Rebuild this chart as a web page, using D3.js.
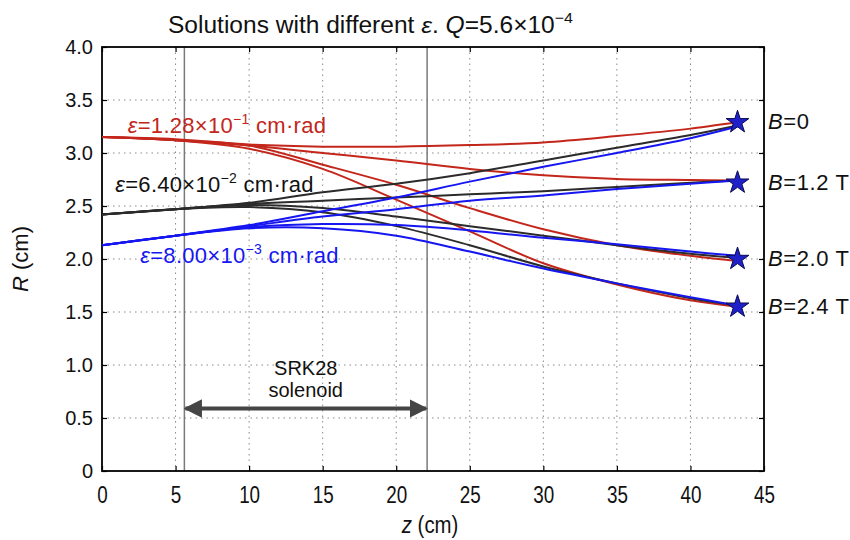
<!DOCTYPE html>
<html>
<head>
<meta charset="utf-8">
<script src="https://cdn.jsdelivr.net/npm/d3@7"></script>
<style>
  body { margin: 0; background: #fff; }
  svg text { font-family: "Liberation Sans", Arial, sans-serif; }
</style>
</head>
<body>
<div id="chart"></div>
<script>
const zValues = [0, 5, 10, 15, 20, 25, 30, 35, 40, 43.2];
const bLabels = ["0", "1.2 T", "2.0 T", "2.4 T"];

// eps = 1.28e-1 cm rad (red)
const redB0  = [3.15, 3.13, 3.08, 3.06, 3.06, 3.075, 3.10, 3.16, 3.23, 3.29];
const redB12 = [3.15, 3.12, 3.07, 3.00, 2.93, 2.85, 2.79, 2.755, 2.745, 2.74];
const redB20 = [3.15, 3.12, 3.07, 2.89, 2.70, 2.48, 2.28, 2.13, 2.03, 1.98];
const redB24 = [3.15, 3.12, 3.04, 2.85, 2.56, 2.26, 1.96, 1.76, 1.61, 1.55];
// eps = 6.40e-2 cm rad (black)
const blackB0  = [2.42, 2.47, 2.53, 2.63, 2.71, 2.81, 2.93, 3.05, 3.17, 3.26];
const blackB12 = [2.42, 2.47, 2.52, 2.55, 2.58, 2.61, 2.64, 2.68, 2.72, 2.74];
const blackB20 = [2.42, 2.47, 2.51, 2.48, 2.40, 2.31, 2.22, 2.13, 2.05, 2.01];
const blackB24 = [2.42, 2.47, 2.49, 2.44, 2.31, 2.13, 1.93, 1.77, 1.63, 1.56];
// eps = 8.00e-3 cm rad (blue)
const blueB0  = [2.13, 2.22, 2.32, 2.45, 2.58, 2.73, 2.87, 3.00, 3.14, 3.25];
const blueB12 = [2.13, 2.22, 2.31, 2.40, 2.47, 2.55, 2.60, 2.66, 2.71, 2.74];
const blueB20 = [2.13, 2.22, 2.30, 2.33, 2.32, 2.27, 2.20, 2.14, 2.07, 2.03];
const blueB24 = [2.13, 2.22, 2.29, 2.29, 2.22, 2.07, 1.91, 1.77, 1.64, 1.56];

// end points (stars)
const starZ = 43.2;
const starR = [3.29, 2.72, 2.0, 1.55];

// solenoid edges
const solenoidZ = [5.6, 22.1];
const arrowR = 0.59;

const xTicks = [0, 5, 10, 15, 20, 25, 30, 35, 40, 45];
const yTicks = [0, 0.5, 1.0, 1.5, 2.0, 2.5, 3.0, 3.5, 4.0];

const series = [
  { color: "#c3261b", values: [redB0, redB12, redB20, redB24] },
  { color: "#2b2b2b", values: [blackB0, blackB12, blackB20, blackB24] },
  { color: "#1616f0", values: [blueB0, blueB12, blueB20, blueB24] }
];

const W = 850, H = 540;
const margin = { top: 47, right: 86, bottom: 69, left: 102 };
const width = W - margin.left - margin.right;
const height = H - margin.top - margin.bottom;

const svg = d3.select("#chart").append("svg")
  .attr("width", W).attr("height", H);

const g = svg.append("g")
  .attr("transform", `translate(${margin.left},${margin.top})`);

const x = d3.scaleLinear().domain([0, 45]).range([0, width]);
const y = d3.scaleLinear().domain([0, 4]).range([height, 0]);

// dotted grid
g.append("g").selectAll("line").data(xTicks.slice(1, -1)).enter().append("line")
  .attr("x1", d => x(d)).attr("x2", d => x(d))
  .attr("y1", 0).attr("y2", height)
  .attr("stroke", "#8a8a8a").attr("stroke-width", 1)
  .attr("stroke-dasharray", "1.5,4");
g.append("g").selectAll("line").data(yTicks.slice(1, -1)).enter().append("line")
  .attr("x1", 0).attr("x2", width)
  .attr("y1", d => y(d)).attr("y2", d => y(d))
  .attr("stroke", "#8a8a8a").attr("stroke-width", 1)
  .attr("stroke-dasharray", "1.5,4");

// solenoid boundaries
g.append("g").selectAll("line").data(solenoidZ).enter().append("line")
  .attr("x1", d => x(d)).attr("x2", d => x(d))
  .attr("y1", 0).attr("y2", height)
  .attr("stroke", "#7a7a7a").attr("stroke-width", 1.5);

// axes, ticks point inward on all four sides
const axisStyle = sel => {
  sel.select(".domain").remove();
  sel.selectAll(".tick line").attr("stroke", "#000").attr("stroke-width", 1.2);
};
g.append("g")
  .attr("transform", `translate(0,${height})`)
  .call(d3.axisBottom(x).tickValues(xTicks).tickSize(-5).tickPadding(16).tickFormat(d3.format("d")))
  .call(axisStyle)
  .selectAll("text").attr("font-size", 23).attr("fill", "#111")
  .attr("transform", "scale(0.82,1)");
g.append("g")
  .call(d3.axisTop(x).tickValues(xTicks).tickSize(-5).tickFormat(""))
  .call(axisStyle);
g.append("g")
  .call(d3.axisLeft(y).tickValues(yTicks).tickSize(-5).tickPadding(9)
    .tickFormat(d => d === 0 ? "0" : d3.format(".1f")(d)))
  .call(axisStyle)
  .selectAll("text").attr("font-size", 20).attr("fill", "#111");
g.append("g").attr("transform", `translate(${width},0)`)
  .call(d3.axisRight(y).tickValues(yTicks).tickSize(-5).tickFormat(""))
  .call(axisStyle);

// frame
g.append("rect").attr("width", width).attr("height", height)
  .attr("fill", "none").attr("stroke", "#000").attr("stroke-width", 1.8);

// curves
const line = d3.line()
  .x((d, i) => x(zValues[i]))
  .y(d => y(d))
  .curve(d3.curveCatmullRom.alpha(0.5));

series.forEach(s => {
  g.append("g").selectAll("path").data(s.values).enter().append("path")
    .attr("d", line)
    .attr("fill", "none")
    .attr("stroke", s.color)
    .attr("stroke-width", 2);
});

// stars at the end
g.append("g").selectAll("path").data(starR).enter().append("path")
  .attr("d", d3.symbol().type(d3.symbolStar).size(160))
  .attr("transform", d => `translate(${x(starZ)},${y(d)})`)
  .attr("fill", "#2020c8").attr("stroke", "#0a0a50").attr("stroke-width", 1);

// solenoid arrow
const defs = svg.append("defs");
["arrEnd", "arrStart"].forEach((id, i) => {
  defs.append("marker").attr("id", id)
    .attr("viewBox", "0 0 10 10").attr("refX", 9).attr("refY", 5)
    .attr("markerWidth", 4.6).attr("markerHeight", 5.2)
    .attr("orient", i === 0 ? "auto" : "auto-start-reverse")
    .append("path").attr("d", "M0,0 L10,5 L0,10 Z").attr("fill", "#454545");
});
g.append("line")
  .attr("x1", x(solenoidZ[0]) + 1).attr("x2", x(solenoidZ[1]) - 1)
  .attr("y1", y(arrowR)).attr("y2", y(arrowR))
  .attr("stroke", "#454545").attr("stroke-width", 4)
  .attr("marker-end", "url(#arrEnd)").attr("marker-start", "url(#arrStart)");
const midSol = x((solenoidZ[0] + solenoidZ[1]) / 2);
g.append("text").attr("x", midSol).attr("y", y(arrowR) - 33)
  .attr("text-anchor", "middle").attr("font-size", 20).attr("fill", "#111")
  .text("SRK28");
g.append("text").attr("x", midSol).attr("y", y(arrowR) - 11)
  .attr("text-anchor", "middle").attr("font-size", 20).attr("fill", "#111")
  .text("solenoid");

// epsilon labels
const epsLabels = [
  { color: "#c3261b", mant: "1.28", exp: "\u22121", xz: 1.75, yr: 3.185 },
  { color: "#111", mant: "6.40", exp: "\u22122", xz: 0.9, yr: 2.63 },
  { color: "#1616f0", mant: "8.00", exp: "\u22123", xz: 2.6, yr: 1.96 }
];
epsLabels.forEach(l => {
  const t = g.append("text").attr("x", x(l.xz)).attr("y", y(l.yr))
    .attr("font-size", 22).attr("letter-spacing", 0.3).attr("fill", l.color);
  t.append("tspan").attr("font-style", "italic").text("\u03b5");
  t.append("tspan").text("=" + l.mant + "\u00d710");
  t.append("tspan").attr("dy", -9).attr("font-size", 14).text(l.exp);
  t.append("tspan").attr("dy", 9).text(" cm\u00b7rad");
});

// B labels on the right
g.append("g").selectAll("text").data(bLabels).enter().append("text")
  .attr("x", width + 4)
  .attr("y", (d, i) => y(starR[i]) + 7)
  .attr("font-size", 22).attr("letter-spacing", 0.6).attr("fill", "#111")
  .each(function (d) {
    const t = d3.select(this);
    t.append("tspan").attr("font-style", "italic").text("B");
    t.append("tspan").text("=" + d);
  });

// title (narrow-looking, squeezed to width)
const title = svg.append("text")
  .attr("x", 168).attr("y", 33)
  .attr("font-size", 23).attr("fill", "#111")
  .attr("textLength", 405).attr("lengthAdjust", "spacingAndGlyphs");
title.append("tspan").text("Solutions with different ");
title.append("tspan").attr("font-style", "italic").text("\u03b5");
title.append("tspan").text(". ");
title.append("tspan").attr("font-style", "italic").text("Q");
title.append("tspan").text("=5.6\u00d710");
title.append("tspan").attr("dy", -10).attr("font-size", 15).text("\u22124");

// axis titles
const xt = svg.append("text")
  .attr("transform", `translate(${margin.left + x(22.3)},533) scale(0.85,1)`)
  .attr("text-anchor", "middle").attr("font-size", 24).attr("fill", "#111");
xt.append("tspan").attr("font-style", "italic").text("z");
xt.append("tspan").text(" (cm)");

const yt = svg.append("text")
  .attr("transform", `translate(28,${margin.top + y(2.0)}) rotate(-90)`)
  .attr("text-anchor", "middle").attr("font-size", 22).attr("fill", "#111");
yt.append("tspan").attr("font-style", "italic").text("R");
yt.append("tspan").text(" (cm)");
</script>
</body>
</html>
